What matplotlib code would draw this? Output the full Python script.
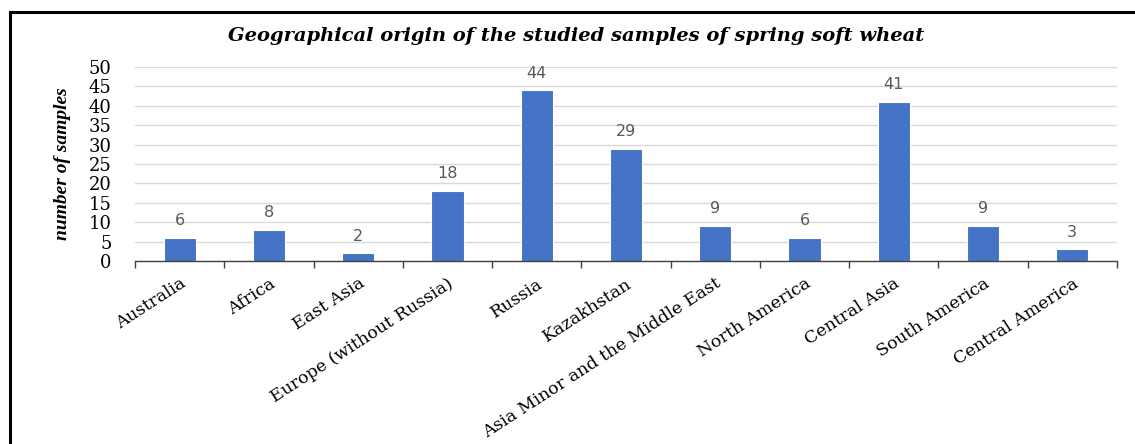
import numpy as np
import matplotlib
matplotlib.use("Agg")
import matplotlib.pyplot as plt
from matplotlib.lines import Line2D

# Data
regions = ["Australia", "Africa", "East Asia", "Europe (without Russia)", "Russia",
           "Kazakhstan", "Asia Minor and the Middle East", "North America",
           "Central Asia", "South America", "Central America"]
samples = [6, 8, 2, 18, 44, 29, 9, 6, 41, 9, 3]
y_ticks = [0, 5, 10, 15, 20, 25, 30, 35, 40, 45, 50]

fig = plt.figure(figsize=(11.35, 4.44), dpi=100)
ax = fig.add_axes([0.119, 0.412, 0.865, 0.437])

x = np.arange(len(regions))
bars = ax.bar(x, samples, width=0.36, color="#4472C4", edgecolor="white", linewidth=0.8, zorder=3)

# Value labels above bars
for rect, v in zip(bars, samples):
    ax.annotate(str(v), (rect.get_x() + rect.get_width() / 2, v),
                xytext=(0, 7), textcoords="offset points",
                ha="center", va="bottom", fontsize=11.5, color="#595959",
                family="DejaVu Sans")

ax.set_xlim(-0.5, len(regions) - 0.5)
ax.set_ylim(0, 50)
ax.set_yticks(y_ticks)
ax.set_yticklabels([str(t) for t in y_ticks], family="DejaVu Serif", fontsize=13)
ax.tick_params(axis="y", length=0, pad=17)

ax.set_xticks(x)
ax.set_xticklabels(regions, rotation=33, ha="right", rotation_mode="anchor",
                   family="DejaVu Serif", fontsize=12.5)
ax.tick_params(axis="x", which="major", length=0, pad=10)
ax.set_xticks(np.arange(-0.5, len(regions)), minor=True)
ax.tick_params(axis="x", which="minor", length=5, width=1, color="#404040", direction="out")

ax.grid(axis="y", color="#d9d9d9", linewidth=1, zorder=0)
for s in ["top", "right", "left"]:
    ax.spines[s].set_visible(False)
ax.spines["bottom"].set_color("#404040")
ax.spines["bottom"].set_linewidth(1)
ax.spines["bottom"].set_zorder(4)

ax.set_ylabel("number of samples", family="Liberation Serif", style="italic",
              fontweight="bold", fontsize=14)
ax.yaxis.set_label_coords(-0.065, 0.5)

fig.text(0.508, 0.918, "Geographical origin of the studied samples of spring soft wheat",
         ha="center", va="center", family="DejaVu Serif", style="italic",
         fontweight="bold", fontsize=14)

# Outer frame (left and top edges)
fig.add_artist(Line2D([0.009, 0.009], [0.0, 0.973], color="black", linewidth=2.2, transform=fig.transFigure))
fig.add_artist(Line2D([0.009, 1.0], [0.973, 0.973], color="black", linewidth=2.2, transform=fig.transFigure))

fig.savefig("out.png", dpi=100)
